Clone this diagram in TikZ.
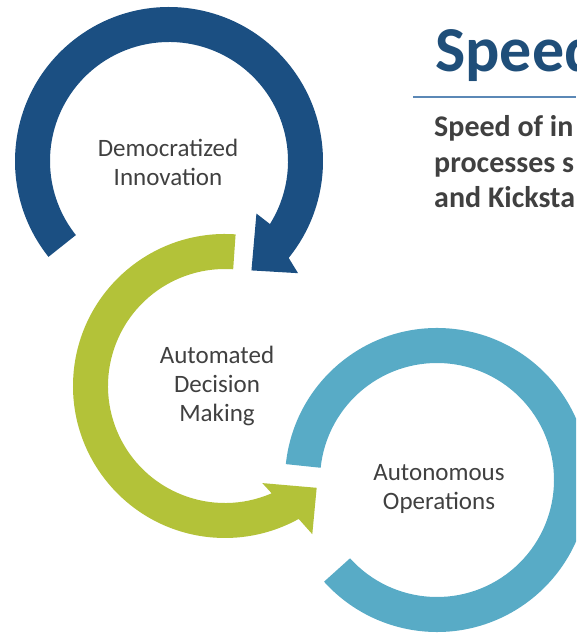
\documentclass[tikz,border=0pt]{standalone}
\usepackage{fontspec}
\setmainfont{Carlito}
\usetikzlibrary{positioning}

\definecolor{ringblue}{HTML}{1B4F82}
\definecolor{ringgreen}{HTML}{B3C239}
\definecolor{ringteal}{HTML}{58ABC6}
\definecolor{labelgray}{HTML}{404040}
\definecolor{titleblue}{HTML}{1F4E79}
\definecolor{rulecolor}{HTML}{5B88B6}

\begin{document}
\begin{tikzpicture}[x=1pt, y=1pt,
    ringlabel/.style={text=labelgray, align=center, inner sep=0pt,
      font=\fontsize{25}{29}\selectfont},
    bodyline/.style={text=labelgray, anchor=base west, inner sep=0pt,
      font=\bfseries\fontsize{30}{35}\selectfont}]
    \useasboundingbox (0,0) rectangle (576,634);
    \clip (0,0) rectangle (576,634);

    % Blue ring, clockwise, head at lower right
    \begin{scope}[shift={(169,473)}]
        \fill[ringblue] (218.5:154) arc[start angle=218.5, end angle=-39, radius=154]
            -- (-41:171) -- (-53:137) -- (-31:102) -- (-32:119)
            arc[start angle=-32, end angle=218.5, radius=119] -- cycle;
        \node[ringlabel] (democratized) at (-1,-1.5) {Democratized\\Innovation};
    \end{scope}

    % Green ring, counter-clockwise, head at lower right
    \begin{scope}[shift={(225,248)}]
        \fill[ringgreen] (86:152) arc[start angle=86, end angle=299, radius=152]
            -- (300.5:172) -- (312:137) -- (291:104) -- (293.5:117)
            arc[start angle=293.5, end angle=86, radius=117] -- cycle;
        \node[ringlabel] (automated) at (-8,0) {Automated\\Decision\\Making};
    \end{scope}

    % Teal ring, open at the left
    \begin{scope}[shift={(437,154)}]
        \fill[ringteal] (174:152) arc[start angle=174, end angle=-138, radius=152]
            -- (-138:117) arc[start angle=-138, end angle=174, radius=117] -- cycle;
        \node[ringlabel] (autonomous) at (2,-9) {Autonomous\\Operations};
    \end{scope}

    % Heading and text
    \node[anchor=base west, inner sep=0pt, text=titleblue,
        font=\bfseries\fontsize{64}{70}\selectfont] (title) at (435,562) {Speed};
    \coordinate (rulestart) at (413,537);
    \coordinate (ruleend) at (576,537);
    \draw[rulecolor, line width=1.5pt] (rulestart) -- (ruleend);
    \node[bodyline] (line1) at (434,497) {Speed of in};
    \node[bodyline] (line2) at (434,461) {processes s};
    \node[bodyline] (line3) at (434,426) {and Kicksta};
\end{tikzpicture}
\end{document}
